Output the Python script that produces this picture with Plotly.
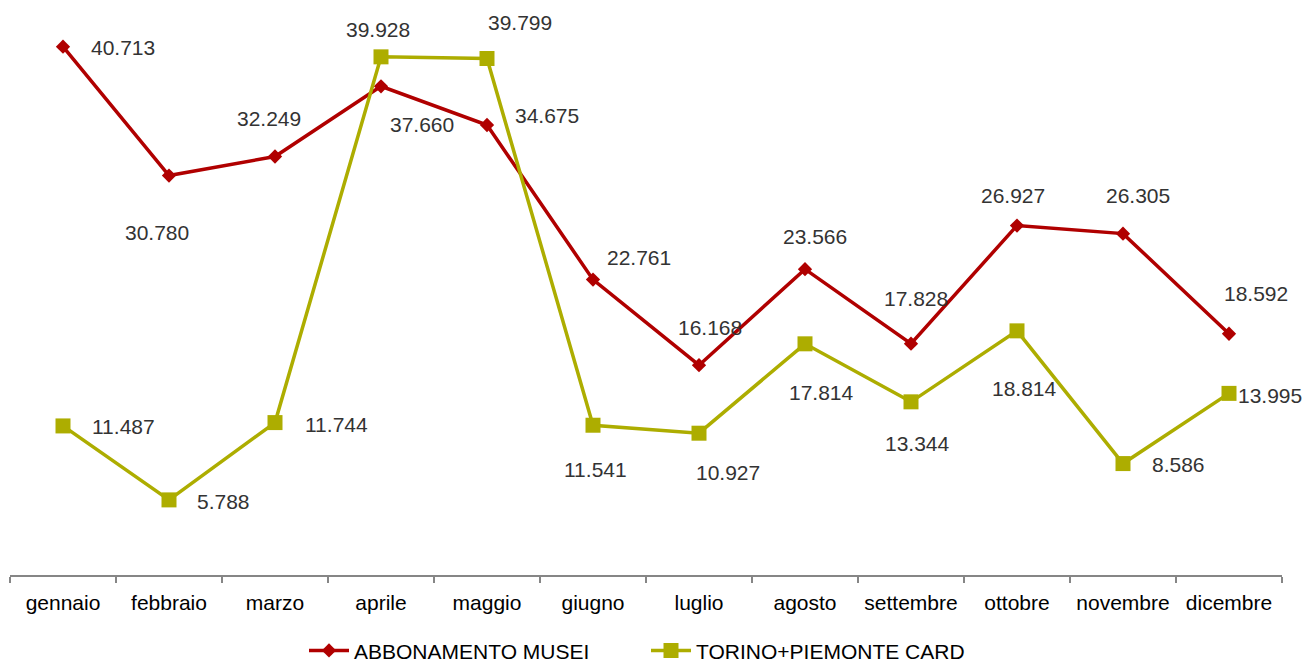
import plotly.graph_objects as go

months = ["gennaio", "febbraio", "marzo", "aprile", "maggio", "giugno",
          "luglio", "agosto", "settembre", "ottobre", "novembre", "dicembre"]
abbonamento = [40713, 30780, 32249, 37660, 34675, 22761, 16168, 23566, 17828, 26927, 26305, 18592]
torino_card = [11487, 5788, 11744, 39928, 39799, 11541, 10927, 17814, 13344, 18814, 8586, 13995]

# label offsets in pixels (xshift, yshift) relative to each point
abb_offsets = [(60, -1), (-12, -57), (-6, 38), (41, -38), (60, 10), (46, 22),
               (11, 38), (10, 33), (5, 45), (-4, 30), (15, 38), (27, 40)]
tor_offsets = [(60, -1), (54, -2), (61, -2), (-3, 27), (33, 36), (2, -44),
               (29, -39), (16, -49), (6, -42), (7, -58), (55, -1), (41, -2)]

RED = "#B00000"
GREEN = "#ADAD00"
FONT = "Liberation Sans, Arial, sans-serif"

def fmt(v):
    return f"{v:,}".replace(",", ".")

fig = go.Figure()
fig.add_trace(go.Scatter(
    x=months, y=abbonamento, name="ABBONAMENTO MUSEI", mode="lines+markers",
    line=dict(color=RED, width=3.5), marker=dict(symbol="diamond", size=11, color=RED)))
fig.add_trace(go.Scatter(
    x=months, y=torino_card, name="TORINO+PIEMONTE CARD", mode="lines+markers",
    line=dict(color=GREEN, width=3.5), marker=dict(symbol="square", size=15, color=GREEN)))

annotations = []
for m, v, (dx, dy) in zip(months, abbonamento, abb_offsets):
    annotations.append(dict(x=m, y=v, text=fmt(v), showarrow=False, xshift=dx, yshift=dy,
                            font=dict(family=FONT, size=21, color="#333333")))
for m, v, (dx, dy) in zip(months, torino_card, tor_offsets):
    annotations.append(dict(x=m, y=v, text=fmt(v), showarrow=False, xshift=dx, yshift=dy,
                            font=dict(family=FONT, size=21, color="#333333")))

fig.update_layout(
    width=1304, height=662,
    margin=dict(l=10, r=22, t=4, b=87, autoexpand=False),
    paper_bgcolor="white", plot_bgcolor="white",
    font=dict(family=FONT, size=21, color="black"),
    showlegend=True,
    legend=dict(orientation="h", x=0.5, xanchor="center",
                yref="container", y=0.017, yanchor="middle",
                font=dict(family=FONT, size=21, color="black"), itemwidth=40,
                entrywidth=287, entrywidthmode="pixels", tracegroupgap=0),
    annotations=annotations,
    xaxis=dict(type="category", range=[-0.5, 11.5], showgrid=False, zeroline=False,
               showline=True, linecolor="#868686", linewidth=2,
               ticks="outside", tickson="boundaries", ticklen=6, tickcolor="#868686",
               tickwidth=2, ticklabelstandoff=8,
               tickfont=dict(family=FONT, size=21, color="black")),
    yaxis=dict(range=[0, 44000], visible=False, showgrid=False, zeroline=False),
)

post = """
document.documentElement.style.margin='0';
document.documentElement.style.overflow='hidden';
document.body.style.margin='0';
document.body.style.overflow='hidden';
"""

fig.write_html("out.html", post_script=post, config={"displayModeBar": False})
